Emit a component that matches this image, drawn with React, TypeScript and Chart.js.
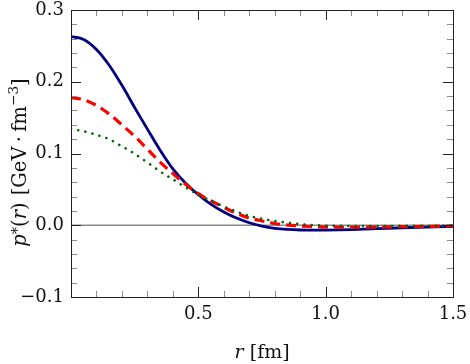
import { useEffect, useRef } from 'react';
import { Chart, registerables } from 'chart.js';

Chart.register(...registerables);

// ---- data ----
const rValues = [0, 0.05, 0.1, 0.15, 0.2, 0.25, 0.3, 0.35, 0.4, 0.45, 0.5, 0.55, 0.6, 0.65, 0.7, 0.75, 0.8, 0.85, 0.9, 0.95, 1.0, 1.1, 1.2, 1.3, 1.4, 1.5];
const solidNavy = [0.263, 0.259, 0.245, 0.223, 0.195, 0.164, 0.134, 0.1045, 0.0785, 0.0585, 0.0425, 0.029, 0.0185, 0.010, 0.0035, -0.0012, -0.0042, -0.0058, -0.0066, -0.0069, -0.0068, -0.006, -0.0048, -0.0035, -0.0025, -0.0018];
const dashedRed = [0.178, 0.175, 0.167, 0.155, 0.140, 0.124, 0.106, 0.088, 0.072, 0.057, 0.044, 0.034, 0.025, 0.0165, 0.010, 0.006, 0.0025, 0.0003, -0.001, -0.002, -0.0025, -0.0028, -0.0025, -0.002, -0.0015, -0.001];
const dottedGreen = [0.134, 0.131, 0.126, 0.120, 0.110, 0.0995, 0.0875, 0.075, 0.064, 0.053, 0.0425, 0.034, 0.026, 0.019, 0.013, 0.009, 0.006, 0.0035, 0.0015, 0.0003, -0.0005, -0.001, -0.001, -0.0009, -0.0007, -0.0005];

const xTickValues = [0.5, 1.0, 1.5];
const yTickValues = [-0.1, 0.0, 0.1, 0.2, 0.3];
const xMinorStep = 0.1;
const yMinorStep = 0.02;

const FONT = 'DejaVu Serif';

type Seg = { t?: string; italic?: boolean; sup?: boolean; gap?: number; raise?: number; scale?: number };

function drawRich(ctx: CanvasRenderingContext2D, segs: Seg[], size: number, cx: number) {
  const fontFor = (s: Seg) => {
    const sz = s.sup ? size * (s.scale ?? 0.7) : size;
    return `${s.italic ? 'italic ' : ''}${sz}px "${FONT}"`;
  };
  let total = 0;
  const widths = segs.map((s) => {
    if (s.gap !== undefined) return s.gap * size;
    ctx.font = fontFor(s);
    return ctx.measureText(s.t || '').width;
  });
  widths.forEach((w) => (total += w));
  let x = cx - total / 2;
  segs.forEach((s, i) => {
    if (s.gap === undefined) {
      ctx.font = fontFor(s);
      const dy = s.sup ? -(s.raise ?? 0.38) * size : 0;
      ctx.fillText(s.t || '', x, dy);
    }
    x += widths[i];
  });
}

const decorPlugin = {
  id: 'decor',
  beforeDatasetsDraw(chart: any) {
    const { ctx, chartArea, scales } = chart;
    const y0 = scales.y.getPixelForValue(0);
    ctx.save();
    ctx.strokeStyle = '#8c8c8c';
    ctx.lineWidth = 1.3;
    ctx.beginPath();
    ctx.moveTo(chartArea.left, y0);
    ctx.lineTo(chartArea.right, y0);
    ctx.stroke();
    ctx.restore();
  },
  afterDraw(chart: any) {
    const { ctx, chartArea, scales } = chart;
    const { left, right, top, bottom } = chartArea;
    const xs = scales.x;
    const ys = scales.y;
    ctx.save();
    // minor ticks
    ctx.lineWidth = 1;
    ctx.strokeStyle = '#8a8a8a';
    ctx.beginPath();
    for (let i = 1; i < Math.round((xs.max - xs.min) / xMinorStep); i++) {
      const v = xs.min + i * xMinorStep;
      if (xTickValues.some((t) => Math.abs(t - v) < 1e-9)) continue;
      const px = Math.round(xs.getPixelForValue(v)) + 0.5;
      ctx.moveTo(px, bottom); ctx.lineTo(px, bottom - 6);
      ctx.moveTo(px, top); ctx.lineTo(px, top + 6);
    }
    for (let i = 1; i < Math.round((ys.max - ys.min) / yMinorStep); i++) {
      const v = ys.min + i * yMinorStep;
      if (yTickValues.some((t) => Math.abs(t - v) < 1e-9)) continue;
      const py = Math.round(ys.getPixelForValue(v)) + 0.5;
      ctx.moveTo(left, py); ctx.lineTo(left + 6, py);
      ctx.moveTo(right, py); ctx.lineTo(right - 6, py);
    }
    ctx.stroke();
    // major ticks
    ctx.strokeStyle = '#222';
    ctx.beginPath();
    xTickValues.forEach((v) => {
      const px = Math.round(xs.getPixelForValue(v)) + 0.5;
      ctx.moveTo(px, bottom); ctx.lineTo(px, bottom - 10);
      ctx.moveTo(px, top); ctx.lineTo(px, top + 10);
    });
    yTickValues.forEach((v) => {
      const py = Math.round(ys.getPixelForValue(v)) + 0.5;
      ctx.moveTo(left, py); ctx.lineTo(left + 10, py);
      ctx.moveTo(right, py); ctx.lineTo(right - 10, py);
    });
    ctx.stroke();
    // frame
    ctx.strokeStyle = '#222';
    ctx.lineWidth = 1;
    ctx.strokeRect(Math.round(left) + 0.5, Math.round(top) + 0.5, Math.round(right - left), Math.round(bottom - top));

    // axis titles
    ctx.fillStyle = '#111';
    ctx.textBaseline = 'alphabetic';
    ctx.textAlign = 'left';
    // x title
    ctx.save();
    ctx.translate(0, 358);
    drawRich(ctx, [
      { t: 'r', italic: true },
      { gap: 0.33 },
      { t: '[fm]' },
    ], 19, (left + right) / 2);
    ctx.restore();
    // y title
    ctx.save();
    ctx.translate(26, 0);
    ctx.rotate(-Math.PI / 2);
    drawRich(ctx, [
      { t: 'p', italic: true },
      { t: '*', sup: true, raise: 0.2, scale: 0.75 },
      { t: '(' },
      { t: 'r', italic: true },
      { t: ')' },
      { gap: 0.36 },
      { t: '[GeV' },
      { gap: 0.22 },
      { t: '\u00b7' },
      { gap: 0.22 },
      { t: 'fm' },
      { t: '\u22123', sup: true, raise: 0.42 },
      { t: ']' },
    ], 19.5, -162.5);
    ctx.restore();
    ctx.restore();
  },
};

export default function App() {
  const ref = useRef<HTMLCanvasElement | null>(null);
  useEffect(() => {
    if (!ref.current) return;
    const mk = (ys: number[]) => rValues.map((x, i) => ({ x, y: ys[i] }));
    const chart = new Chart(ref.current, {
      type: 'line',
      data: {
        datasets: [
          {
            data: mk(solidNavy),
            borderColor: '#000080',
            borderWidth: 2.8,
            pointRadius: 0,
            cubicInterpolationMode: 'monotone',
            fill: false,
            order: 3,
          },
          {
            data: mk(dashedRed),
            borderColor: '#ff0000',
            borderWidth: 3.2,
            borderDash: [10, 6],
            pointRadius: 0,
            cubicInterpolationMode: 'monotone',
            fill: false,
            order: 2,
          },
          {
            data: mk(dottedGreen),
            borderColor: '#006400',
            borderWidth: 2.6,
            borderDash: [0.01, 7.3],
            borderCapStyle: 'round',
            pointRadius: 0,
            cubicInterpolationMode: 'monotone',
            fill: false,
            order: 1,
          },
        ],
      },
      options: {
        responsive: false,
        animation: false,
        events: [],
        layout: { padding: { left: 0, top: 10, right: 17, bottom: 0 } },
        plugins: { legend: { display: false }, tooltip: { enabled: false } },
        scales: {
          x: {
            type: 'linear',
            min: 0,
            max: 1.5,
            grid: { display: false, drawTicks: false },
            border: { display: false },
            afterBuildTicks: (s: any) => { s.ticks = xTickValues.map((v) => ({ value: v })); },
            afterFit: (s: any) => { s.height = 67; s.paddingLeft = 0; s.paddingRight = 0; s.paddingTop = 0; s.paddingBottom = 0; },
            ticks: {
              padding: 8,
              autoSkip: false,
              maxRotation: 0,
              color: '#111',
              font: { family: FONT, size: 18, lineHeight: 1 },
              callback: (v: any) => Number(v).toFixed(1),
            },
          },
          y: {
            type: 'linear',
            min: -0.1,
            max: 0.3,
            grid: { display: false, drawTicks: false },
            border: { display: false },
            afterBuildTicks: (s: any) => { s.ticks = yTickValues.map((v) => ({ value: v })); },
            afterFit: (s: any) => { s.width = 71; s.paddingLeft = 0; s.paddingRight = 0; s.paddingTop = 0; s.paddingBottom = 0; },
            ticks: {
              padding: 7,
              autoSkip: false,
              color: '#111',
              font: { family: FONT, size: 18, lineHeight: 1 },
              callback: (v: any) => {
                const n = Number(v);
                if (Math.abs(n) < 1e-9) return '0.0';
                return n < 0 ? '\u2212' + Math.abs(n).toFixed(1) : n.toFixed(1);
              },
            },
          },
        },
      },
      plugins: [decorPlugin],
    } as any);
    return () => chart.destroy();
  }, []);
  return (
    <div style={{ position: 'absolute', left: 0, top: 0, width: 470, height: 364, background: '#fff' }}>
      <canvas ref={ref} width={470} height={364} style={{ display: 'block' }} />
    </div>
  );
}
